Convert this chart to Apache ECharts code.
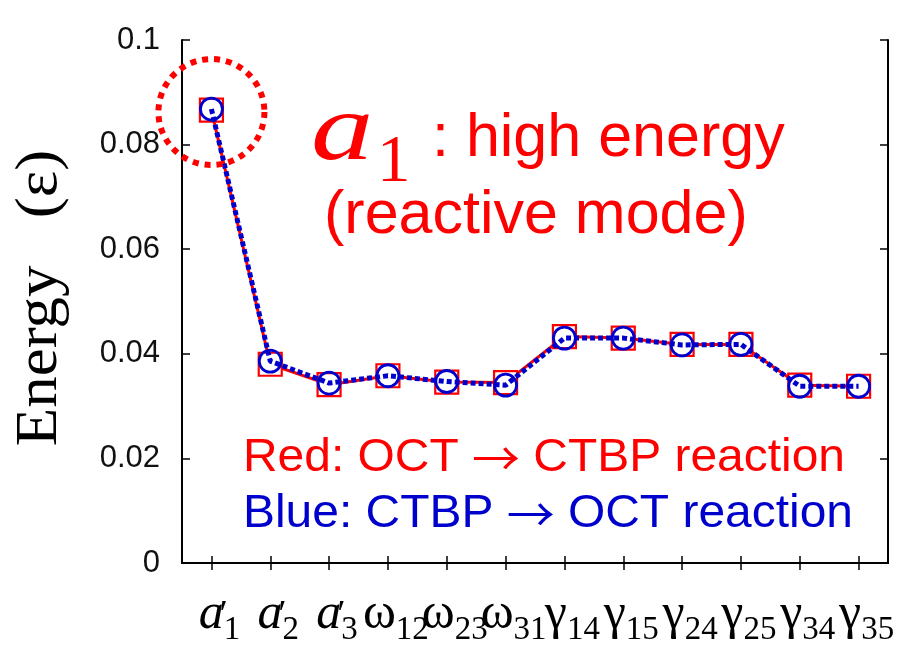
<!DOCTYPE html>
<html>
<head>
<meta charset="utf-8">
<script src="https://cdn.jsdelivr.net/npm/echarts@6/dist/echarts.min.js"></script>
<style>
html,body{margin:0;padding:0;background:#fff;}
#chart{width:900px;height:656px;}
</style>
</head>
<body>
<div id="chart"></div>
<script>
// 模式名称 (a' 带撇号)
var categories = ["a'1", "a'2", "a'3", "ω12", "ω23", "ω31", "γ14", "γ15", "γ24", "γ25", "γ34", "γ35"];
// 红: OCT -> CTBP
var octToCtbp = [0.0866, 0.0380, 0.0341, 0.0358, 0.0346, 0.0345, 0.0433, 0.0430, 0.0418, 0.0418, 0.0340, 0.0338];
// 蓝: CTBP -> OCT
var ctbpToOct = [0.0868, 0.0386, 0.0344, 0.0358, 0.0347, 0.0340, 0.0430, 0.0430, 0.0417, 0.0418, 0.0338, 0.0338];
var yMin = 0, yMax = 0.1, yStep = 0.02;

var RED = '#ff0000', BLUE = '#0000cc';
var SERIF = '"Liberation Serif","DejaVu Serif",serif';
var SANS = '"Liberation Sans",Arial,sans-serif';

function catLabel(v) {
	if (v.indexOf("a'") === 0) {
		return '{a|a}{p|\u2032}{s|' + v.slice(2) + '}';
	}
	return '{g|' + v.charAt(0) + '}{s|' + v.slice(1) + '}';
}

var labelRich = {
	a: {fontFamily: SERIF, fontStyle: 'italic', fontSize: 50, lineHeight: 50, verticalAlign: 'bottom', padding: [0, 0, 7, 0], color: '#000'},
	g: {fontFamily: SERIF, fontSize: 50, lineHeight: 50, verticalAlign: 'bottom', padding: [0, 0, 7, 0], color: '#000'},
	p: {fontFamily: SERIF, fontSize: 38, lineHeight: 30, verticalAlign: 'top', width: 0, color: '#000'},
	s: {fontFamily: SERIF, fontSize: 33, lineHeight: 33, verticalAlign: 'bottom', color: '#000'}
};

// 图例文字里的箭头用细长的字体 (graphic 里用 fill)
var noteRich = {
	r: {font: '46px ' + SANS, fill: RED},
	b: {font: '46px ' + SANS, fill: BLUE},
	ra: {font: '46px "Noto Sans CJK SC"', fill: RED},
	ba: {font: '46px "Noto Sans CJK SC"', fill: BLUE}
};

var axisLineStyle = {lineStyle: {color: '#000', width: 2}};

var option = {
	backgroundColor: '#fff',
	animation: false,
	grid: {left: 182, right: 12, top: 40, bottom: 93},
	xAxis: [{
		type: 'category',
		data: categories,
		boundaryGap: true,
		axisLine: axisLineStyle,
		axisTick: {show: true, inside: true, alignWithLabel: true, length: 7, lineStyle: {color: '#000', width: 1.5}},
		axisLabel: {interval: 0, margin: 34, formatter: catLabel, rich: labelRich, padding: [0, 0, 0, 16], hideOverlap: false},
		splitLine: {show: false}
	}, {
		type: 'category',
		data: categories,
		position: 'top',
		boundaryGap: true,
		axisLine: axisLineStyle,
		axisTick: {show: true, inside: true, alignWithLabel: true, length: 7, lineStyle: {color: '#000', width: 1.5}},
		axisLabel: {show: false},
		splitLine: {show: false}
	}],
	yAxis: [{
		type: 'value',
		min: yMin, max: yMax, interval: yStep,
		axisLine: {show: true, lineStyle: {color: '#000', width: 2}},
		axisTick: {show: true, inside: true, length: 8, lineStyle: {color: '#000', width: 1.5}},
		axisLabel: {margin: 22, fontFamily: SANS, fontSize: 31, color: '#111'},
		splitLine: {show: false}
	}, {
		type: 'value',
		position: 'right',
		min: yMin, max: yMax, interval: yStep,
		axisLine: {show: true, lineStyle: {color: '#000', width: 2}},
		axisTick: {show: true, inside: true, length: 8, lineStyle: {color: '#000', width: 1.5}},
		axisLabel: {show: false},
		splitLine: {show: false}
	}],
	series: [{
		name: 'OCT → CTBP',
		type: 'line',
		data: octToCtbp,
		symbol: 'rect',
		symbolSize: 23,
		showAllSymbol: true,
		lineStyle: {color: RED, width: 3},
		itemStyle: {color: '#fff', borderColor: RED, borderWidth: 2.2},
		z: 2
	}, {
		name: 'CTBP → OCT',
		type: 'line',
		data: ctbpToOct,
		symbol: 'circle',
		symbolSize: 22,
		showAllSymbol: true,
		lineStyle: {color: BLUE, width: 5, type: [5, 3]},
		itemStyle: {color: 'transparent', borderColor: BLUE, borderWidth: 2.8},
		markPoint: {
			symbol: 'circle',
			symbolSize: 106,
			symbolOffset: [0, 3],
			silent: true,
			label: {show: false},
			itemStyle: {color: 'transparent', borderColor: RED, borderWidth: 6, borderType: [6, 6]},
			data: [{coord: [0, ctbpToOct[0]]}]
		},
		z: 3
	}],
	graphic: [
		{type: 'text', x: 40, y: 298, rotation: Math.PI / 2, scaleX: 1.05,
			style: {text: 'Energy   (\u03b5)', font: '60px ' + SERIF, fill: '#000', align: 'center', textAlign: 'center', verticalAlign: 'middle', textVerticalAlign: 'middle'}},
		{type: 'text', x: 311, y: 134, scaleX: 1.3,
			style: {text: 'a', font: 'italic 96px ' + SERIF, fill: RED, verticalAlign: 'middle', textVerticalAlign: 'middle'}},
		{type: 'text', x: 377, y: 163, style: {text: '1', font: '67px ' + SERIF, fill: RED, verticalAlign: 'middle', textVerticalAlign: 'middle'}},
		{type: 'text', x: 432, y: 139, style: {text: ': high energy', font: '61px ' + SANS, fill: RED, verticalAlign: 'middle', textVerticalAlign: 'middle'}},
		{type: 'text', x: 324, y: 216, style: {text: '(reactive mode)', font: '61px ' + SANS, fill: RED, verticalAlign: 'middle', textVerticalAlign: 'middle'}},
		{type: 'text', x: 243, y: 458, scaleX: 1.042, style: {text: '{r|Red: OCT }{ra|\u2192}{r| CTBP reaction}', rich: noteRich, fill: RED, verticalAlign: 'middle', textVerticalAlign: 'middle'}},
		{type: 'text', x: 243, y: 514, scaleX: 1.042, style: {text: '{b|Blue: CTBP }{ba|\u2192}{b| OCT reaction}', rich: noteRich, fill: BLUE, verticalAlign: 'middle', textVerticalAlign: 'middle'}}
	]
};

var chart = echarts.init(document.getElementById('chart'));
chart.setOption(option);
</script>
</body>
</html>
